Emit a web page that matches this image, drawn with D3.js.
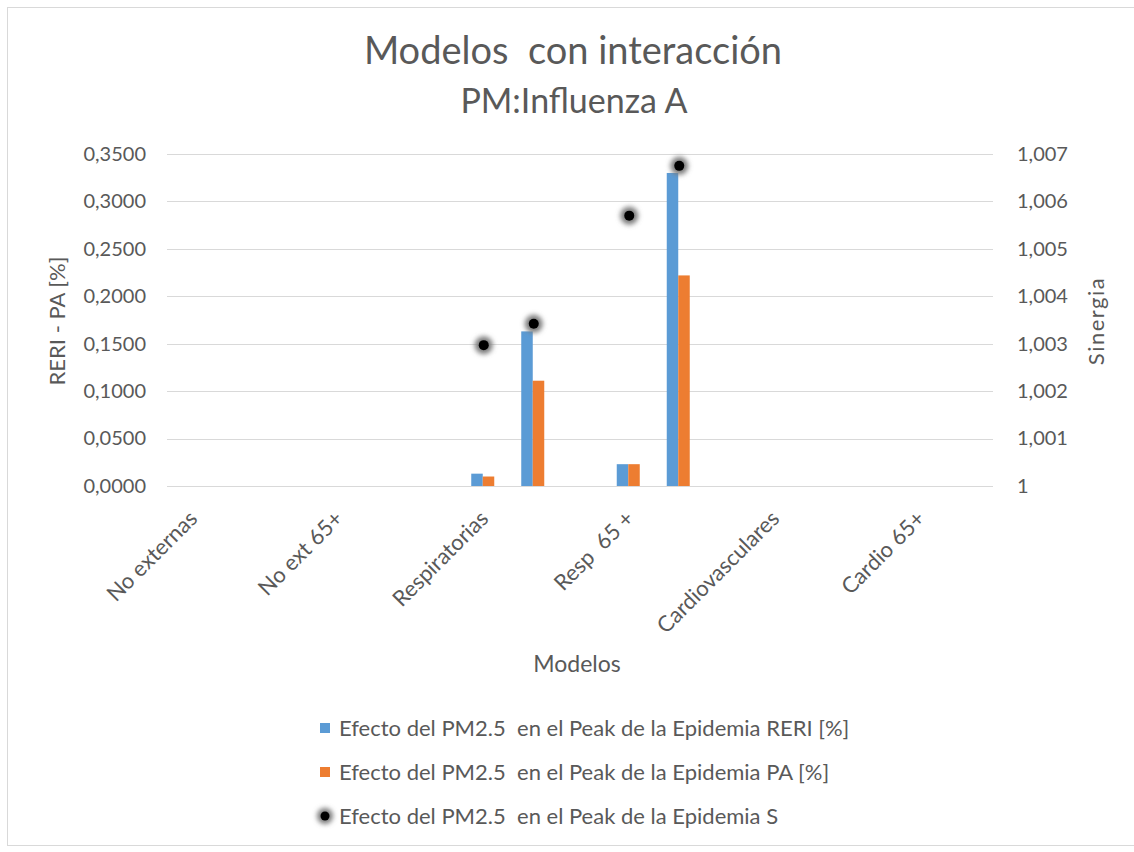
<!DOCTYPE html>
<html>
<head>
<meta charset="utf-8">
<style>
    body { margin: 0; background: #fff; font-family: Lato, sans-serif; }
    svg text { fill: #595959; white-space: pre; }
</style>
<title>Modelos con interacción</title>
</head>
<body>
<script src="https://cdn.jsdelivr.net/npm/d3@7"></script>
<script>
// categories on the x axis, each holding two model variants
var categories = ["No externas", "No ext 65+", "Respiratorias", "Resp  65 +", "Cardiovasculares", "Cardio 65+"]
var variants = ["v1", "v2"]

// Efecto del PM2.5 en el Peak de la Epidemia, per category and variant
var reri = [[null, null], [null, null], [0.013, 0.163], [0.023, 0.330], [null, null], [null, null]]
var pa = [[null, null], [null, null], [0.010, 0.111], [0.023, 0.222], [null, null], [null, null]]
var sinergia = [[null, null], [null, null], [1.00297, 1.00342], [1.00570, 1.00675], [null, null], [null, null]]

var leftTicks = [0, 0.05, 0.10, 0.15, 0.20, 0.25, 0.30, 0.35]
var rightTicks = [1, 1.001, 1.002, 1.003, 1.004, 1.005, 1.006, 1.007]

var seriesNames = [
    "Efecto del PM2.5  en el Peak de la Epidemia RERI [%]",
    "Efecto del PM2.5  en el Peak de la Epidemia PA [%]",
    "Efecto del PM2.5  en el Peak de la Epidemia S"
]
var blue = "#5b9bd5", orange = "#ed7d31"

var width = 1134, height = 852
var plot = {left: 167, right: 993, top: 154, bottom: 486}

var svg = d3.select("body").append("svg")
    .attr("width", width)
    .attr("height", height)

var defs = svg.append("defs")
defs.append("filter").attr("id", "glow")
    .attr("x", "-100%").attr("y", "-100%").attr("width", "300%").attr("height", "300%")
    .append("feGaussianBlur").attr("stdDeviation", 2.5)

// chart frame
svg.append("rect")
    .attr("x", 7.5).attr("y", 7.5)
    .attr("width", 1140).attr("height", 838)
    .attr("fill", "#fff")
    .attr("stroke", "#d9d9d9")

// scales
var x = d3.scaleBand().domain(categories).range([144, 1017])
var xVariant = d3.scalePoint().domain(variants).range([-25, 25])
var xSeries = d3.scaleBand().domain(["reri", "pa"]).range([-11.5, 11.5])
var yLeft = d3.scaleLinear().domain([0, 0.35]).range([plot.bottom, plot.top])
var yRight = d3.scaleLinear().domain([1, 1.007]).range([plot.bottom, plot.top])

// gridlines
svg.append("g").selectAll("line")
    .data(leftTicks)
    .enter().append("line")
    .attr("x1", plot.left).attr("x2", plot.right)
    .attr("y1", d => Math.round(yLeft(d)) + 0.5)
    .attr("y2", d => Math.round(yLeft(d)) + 0.5)
    .attr("stroke", "#d9d9d9")

// axes (labels only, Excel style)
svg.append("g")
    .attr("transform", `translate(${plot.left},0)`)
    .call(d3.axisLeft(yLeft).tickValues(leftTicks).tickSize(0).tickPadding(21)
        .tickFormat(d => d3.format(".4f")(d).replace(".", ",")))
svg.append("g")
    .attr("transform", `translate(${plot.right},0)`)
    .call(d3.axisRight(yRight).tickValues(rightTicks).tickSize(0).tickPadding(24)
        .tickFormat(d => d === 1 ? "1" : d3.format(".3f")(d).replace(".", ",")))
svg.selectAll(".domain").remove()
svg.selectAll(".tick text")
    .style("font-family", "Lato, sans-serif")
    .style("font-size", "20px")
    .attr("fill", "#595959")

// x labels
svg.append("g").selectAll("text")
    .data(categories)
    .enter().append("text")
    .attr("text-anchor", "end")
    .attr("transform", d => `translate(${x(d) + x.bandwidth() / 2 - 18},520) rotate(-45)`)
    .style("font-size", "22px")
    .text(d => d)

// bars
var barData = []
categories.forEach((c, i) => {
    variants.forEach((v, j) => {
        barData.push({cat: c, variant: v, series: "reri", value: reri[i][j]})
        barData.push({cat: c, variant: v, series: "pa", value: pa[i][j]})
    })
})
svg.append("g").selectAll("rect")
    .data(barData.filter(d => d.value != null))
    .enter().append("rect")
    .attr("x", d => x(d.cat) + x.bandwidth() / 2 + xVariant(d.variant) + xSeries(d.series))
    .attr("width", xSeries.bandwidth())
    .attr("y", d => yLeft(d.value))
    .attr("height", d => yLeft(0) - yLeft(d.value))
    .attr("fill", d => d.series === "reri" ? blue : orange)

// synergy markers
var dotData = []
categories.forEach((c, i) => {
    variants.forEach((v, j) => {
        if (sinergia[i][j] != null) dotData.push({cat: c, variant: v, value: sinergia[i][j]})
    })
})
var dots = svg.append("g").selectAll("g")
    .data(dotData)
    .enter().append("g")
    .attr("transform", d => `translate(${x(d.cat) + x.bandwidth() / 2 + xVariant(d.variant) + 1},${yRight(d.value)})`)
dots.append("circle").attr("r", 9).attr("fill", "#7a7a7a").attr("filter", "url(#glow)")
dots.append("circle").attr("r", 5).attr("fill", "#000")

// titles
svg.append("text")
    .attr("x", 573).attr("y", 64)
    .attr("text-anchor", "middle")
    .style("font-size", "38px")
    .text("Modelos  con interacción")
svg.append("text")
    .attr("x", 574).attr("y", 113)
    .attr("text-anchor", "middle")
    .style("font-size", "34px")
    .text("PM:Influenza A")
svg.append("text")
    .attr("x", 577).attr("y", 672)
    .attr("text-anchor", "middle")
    .style("font-size", "23px")
    .text("Modelos")
svg.append("text")
    .attr("transform", "translate(65,321) rotate(-90)")
    .attr("text-anchor", "middle")
    .style("font-size", "22px")
    .text("RERI - PA [%]")
svg.append("text")
    .attr("transform", "translate(1104,321) rotate(-90)")
    .attr("text-anchor", "middle")
    .style("font-size", "22px")
    .style("letter-spacing", "1.5px")
    .text("Sinergia")

// legend
var legend = svg.append("g").selectAll("g")
    .data(seriesNames)
    .enter().append("g")
    .attr("transform", (d, i) => `translate(320,${728 + i * 44})`)
legend.each(function (d, i) {
    var g = d3.select(this)
    if (i < 2) {
        g.append("rect").attr("x", 0).attr("y", -5).attr("width", 10).attr("height", 10)
            .attr("fill", i === 0 ? blue : orange)
    } else {
        g.append("circle").attr("cx", 5).attr("r", 8).attr("fill", "#7a7a7a").attr("filter", "url(#glow)")
        g.append("circle").attr("cx", 5).attr("r", 4.5).attr("fill", "#000")
    }
    g.append("text").attr("x", 19).attr("dy", "0.35em")
        .style("font-size", "22px")
        .text(d)
})
</script>
</body>
</html>
